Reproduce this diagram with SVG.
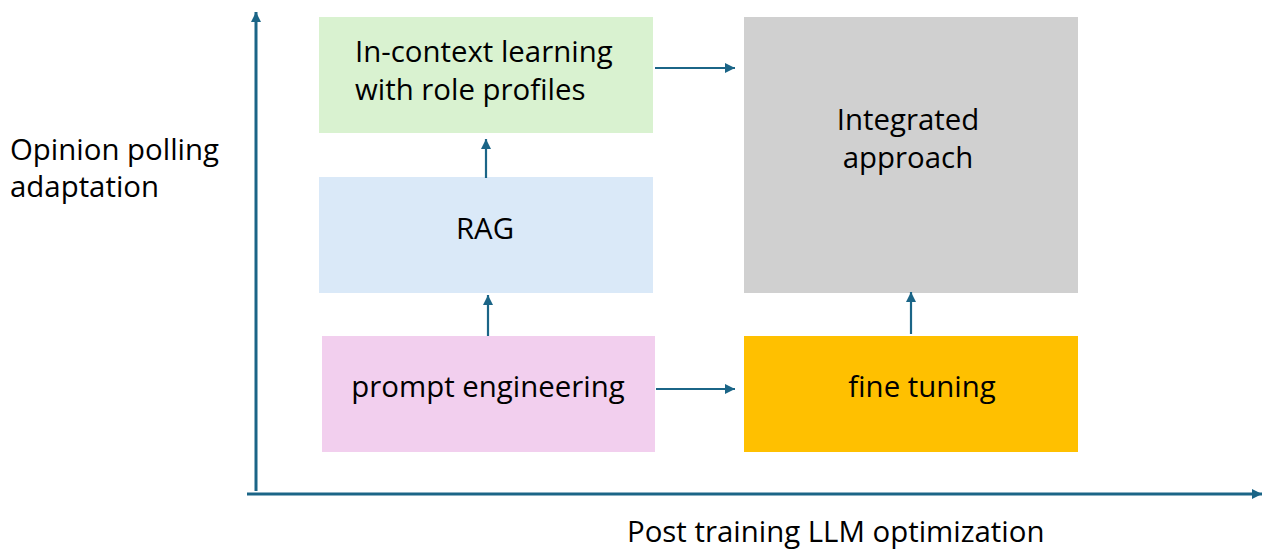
<svg xmlns="http://www.w3.org/2000/svg" width="1264" height="549" viewBox="0 0 1264 549">
<style>
text{font-family:"Open Sans","Noto Sans","Liberation Sans",sans-serif;font-size:29.4px;fill:#000}
.ax{stroke:#1B6587;stroke-width:3;fill:none}
.cn{stroke:#1B6587;stroke-width:2.2;fill:none}
</style>
<defs>
<marker id="ah" viewBox="0 0 10 10" refX="10" refY="5" markerWidth="10" markerHeight="10" markerUnits="userSpaceOnUse" orient="auto"><path d="M0,0L10,5L0,10Z" fill="#1B6587"/></marker>
</defs>
<rect width="1264" height="549" fill="#fff"/>
<g id="axes">
<line class="ax" x1="256" y1="491" x2="256" y2="12" marker-end="url(#ah)"/>
<line class="ax" x1="247" y1="494" x2="1262" y2="494" marker-end="url(#ah)"/>
<text x="10" y="160">Opinion polling</text>
<text x="10" y="197">adaptation</text>
<text x="627" y="542">Post training LLM optimization</text>
</g>
<g id="icl">
<rect x="319" y="17" width="334" height="116" fill="#D9F2D0"/>
<text x="355" y="62">In-context learning</text>
<text x="355" y="100">with role profiles</text>
</g>
<g id="rag">
<rect x="319" y="177" width="334" height="116" fill="#DAE9F8"/>
<text x="485" y="239" text-anchor="middle">RAG</text>
</g>
<g id="prompt">
<rect x="322" y="336" width="333" height="116" fill="#F2CFEE"/>
<text x="488" y="397" text-anchor="middle">prompt engineering</text>
</g>
<g id="integrated">
<rect x="744" y="17" width="334" height="276" fill="#D0D0D0"/>
<text x="908" y="130" text-anchor="middle">Integrated</text>
<text x="908" y="168" text-anchor="middle">approach</text>
</g>
<g id="finetune">
<rect x="744" y="336" width="334" height="116" fill="#FFC000"/>
<text x="922" y="397" text-anchor="middle">fine tuning</text>
</g>
<g id="connectors">
<line class="cn" x1="655" y1="68" x2="735" y2="68" marker-end="url(#ah)"/>
<line class="cn" x1="656" y1="389" x2="735" y2="389" marker-end="url(#ah)"/>
<line class="cn" x1="486" y1="178" x2="486" y2="139" marker-end="url(#ah)"/>
<line class="cn" x1="488" y1="336" x2="488" y2="295" marker-end="url(#ah)"/>
<line class="cn" x1="911" y1="334" x2="911" y2="292" marker-end="url(#ah)"/>
</g>
</svg>
